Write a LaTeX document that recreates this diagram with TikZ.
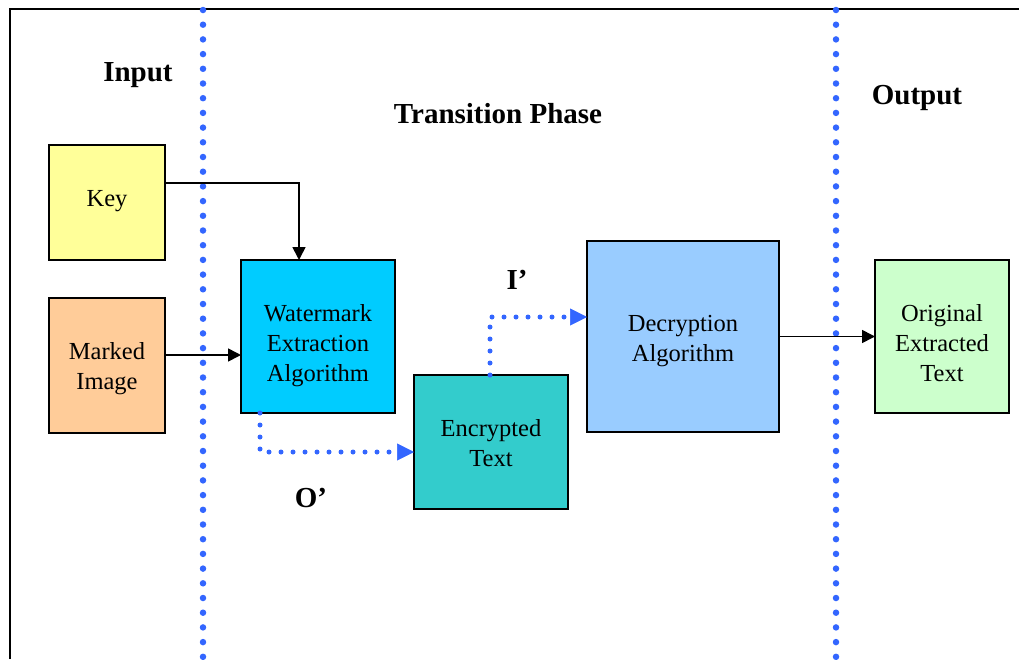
\documentclass[tikz,border=0pt]{standalone}
\usepackage{fontspec}
\setmainfont{Liberation Serif}
\usetikzlibrary{arrows.meta}
\definecolor{dotblue}{HTML}{3366FF}
\definecolor{keyfill}{HTML}{FFFF99}
\definecolor{imgfill}{HTML}{FFCC99}
\definecolor{wmfill}{HTML}{00CCFF}
\definecolor{encfill}{HTML}{33CCCC}
\definecolor{decfill}{HTML}{99CCFF}
\definecolor{outfill}{HTML}{CCFFCC}
\tikzset{
  box/.style={draw=black, line width=2pt, inner sep=0pt, outer sep=0pt},
  boxtext/.style={inner sep=0pt, align=center, font=\fontsize{24.5}{30}\selectfont},
  heading/.style={font=\fontsize{29}{34}\selectfont\bfseries, inner sep=0pt},
  divider/.style={draw=dotblue, line width=6.5pt, line cap=round, dash pattern=on 0pt off 14.7pt},
  flow/.style={draw=black, line width=1.6pt, -{Triangle[length=13pt,width=13pt]}},
  dotflow/.style={draw=dotblue, line width=5pt, line cap=round, dash pattern=on 0pt off 12pt,
    -{Triangle[length=17pt,width=17pt,line width=0.5pt]}}
}
\begin{document}
\begin{tikzpicture}[x=1pt,y=-1pt]
  \useasboundingbox (0,0) rectangle (1019,659);
  % outer frame (open to the right and bottom)
  \draw[line width=2.5pt] (10,659) -- (10,9) -- (1019,9);
  % phase dividers
  \coordinate (d1t) at (203,10);
  \coordinate (d1b) at (203,659);
  \coordinate (d2t) at (836,10);
  \coordinate (d2b) at (836,659);
  \draw[divider] (d1t) -- (d1b);
  \draw[divider] (d2t) -- (d2b);
  % headings
  \node[heading] (hin) at (138,75) {Input};
  \node[heading] (htr) at (498,114) {Transition Phase};
  \node[heading] (hout) at (917,98) {Output};
  \node[heading] (lI) at (517,280) {I’};
  \node[heading] (lO) at (311,498) {O’};
  % blocks
  \node[box, fill=keyfill, minimum width=116pt, minimum height=115pt] (key) at (107,202.5) {};
  \node[box, fill=imgfill, minimum width=116pt, minimum height=135pt] (img) at (107,365.5) {};
  \node[box, fill=wmfill, minimum width=154pt, minimum height=153pt] (wm) at (318,336.5) {};
  \node[box, fill=encfill, minimum width=154pt, minimum height=134pt] (enc) at (491,442) {};
  \node[box, fill=decfill, minimum width=192pt, minimum height=191pt] (dec) at (683,336.5) {};
  \node[box, fill=outfill, minimum width=134pt, minimum height=153pt] (orig) at (942,336.5) {};
  % block captions
  \node[boxtext] (keyt) at ([yshift=1pt]key.center) {Key};
  \node[boxtext] (imgt) at ([yshift=-3pt]img.center) {Marked\\Image};
  \node[boxtext] (wmt) at ([yshift=-9pt]wm.center) {Watermark\\Extraction\\Algorithm};
  \node[boxtext] (enct) at ([yshift=-1pt]enc.center) {Encrypted\\Text};
  \node[boxtext] (dect) at ([yshift=-5pt]dec.center) {Decryption\\Algorithm};
  \node[boxtext] (origt) at ([yshift=-7pt]orig.center) {Original\\Extracted\\Text};
  % connectors
  \coordinate (keyout) at ([yshift=19.5pt]key.east);
  \coordinate (wmin) at ([xshift=-19pt]wm.north);
  \draw[flow] (keyout) -| (wmin);
  \coordinate (imgout) at ([yshift=10.5pt]img.east);
  \draw[flow] (imgout) -- (imgout -| wm.west);
  \coordinate (wmout) at ([xshift=-58pt]wm.south);
  \coordinate (encin) at ([yshift=-10pt]enc.west);
  \draw[dotflow] (wmout) |- (encin);
  \coordinate (encout) at ([xshift=-1pt]enc.north);
  \coordinate (decin) at ([yshift=19.5pt]dec.west);
  \draw[dotflow] (encout) |- (decin);
  \draw[flow] (dec.east) -- (orig.west);
\end{tikzpicture}
\end{document}
